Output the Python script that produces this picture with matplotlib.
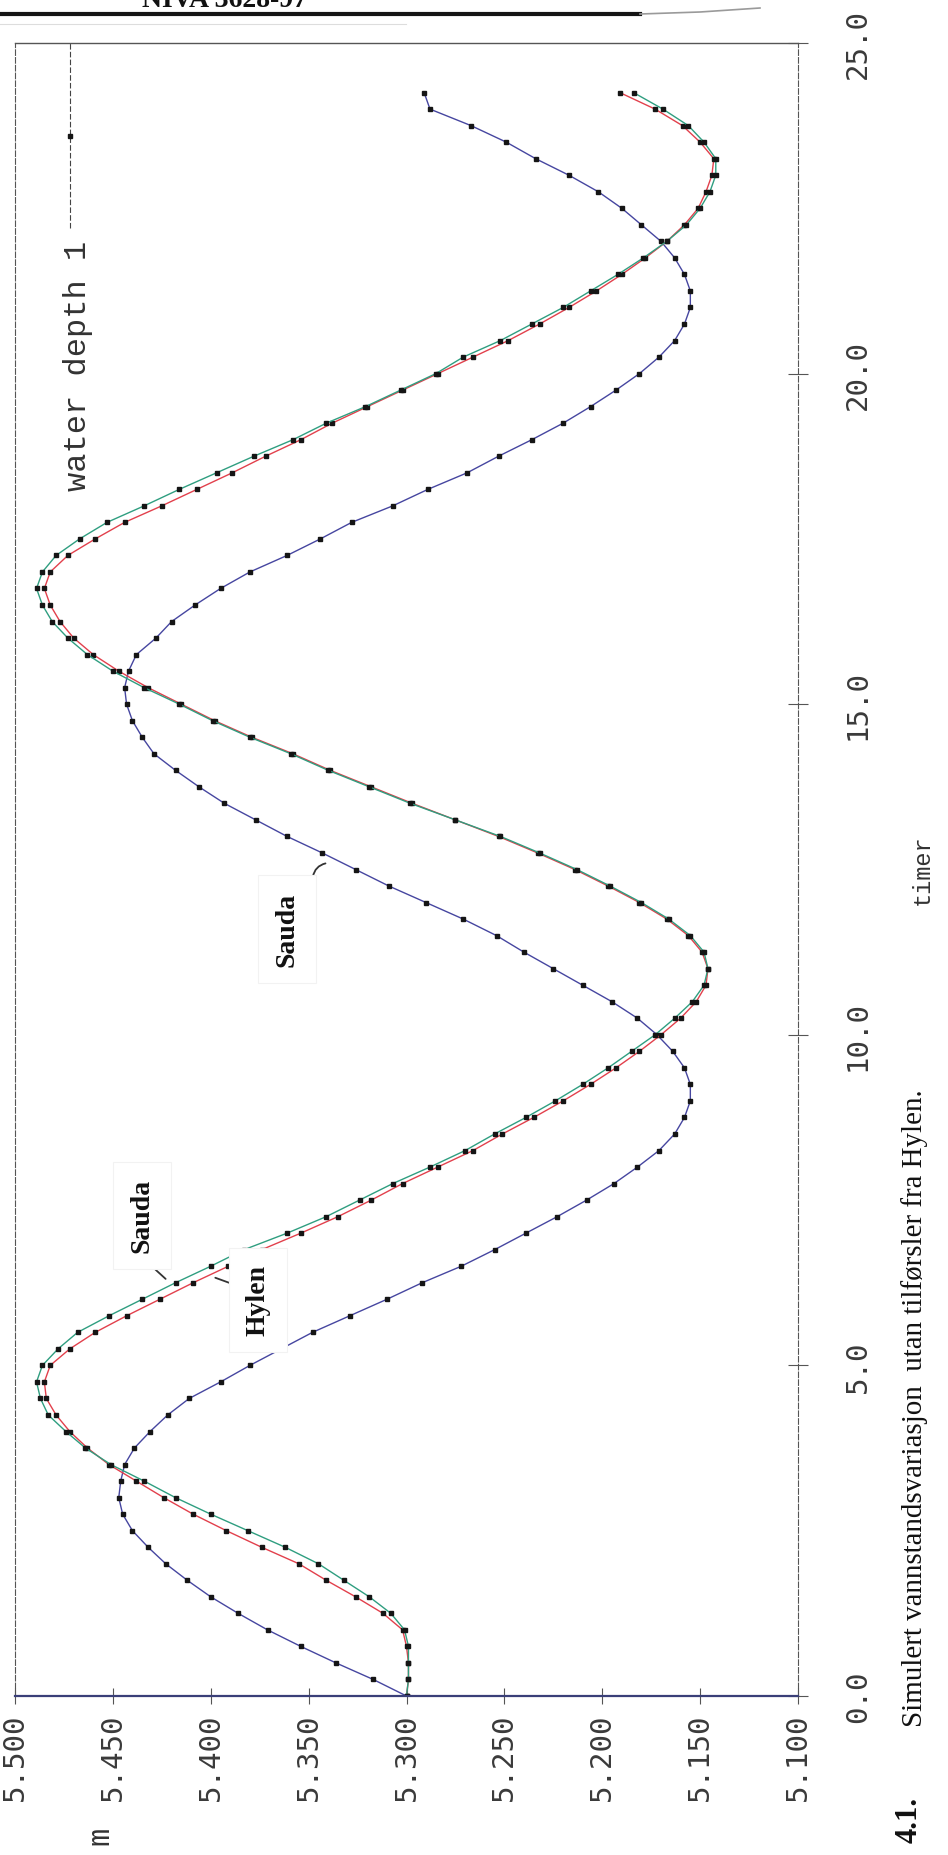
import matplotlib.pyplot as plt
from matplotlib.lines import Line2D

plt.rcParams['font.family'] = 'DejaVu Sans Mono'

# tid i timer, ett punkt per kvarter
timer = [0.0, 0.25, 0.5, 0.75, 1.0, 1.25, 1.5, 1.75, 2.0, 2.25, 2.5, 2.75,
         3.0, 3.25, 3.5, 3.75, 4.0, 4.25, 4.5, 4.75, 5.0, 5.25, 5.5, 5.75,
         6.0, 6.25, 6.5, 6.75, 7.0, 7.25, 7.5, 7.75, 8.0, 8.25, 8.5, 8.75,
         9.0, 9.25, 9.5, 9.75, 10.0, 10.25, 10.5, 10.75, 11.0, 11.25, 11.5, 11.75,
         12.0, 12.25, 12.5, 12.75, 13.0, 13.25, 13.5, 13.75, 14.0, 14.25, 14.5, 14.75,
         15.0, 15.25, 15.5, 15.75, 16.0, 16.25, 16.5, 16.75, 17.0, 17.25, 17.5, 17.75,
         18.0, 18.25, 18.5, 18.75, 19.0, 19.25, 19.5, 19.75, 20.0, 20.25, 20.5, 20.75,
         21.0, 21.25, 21.5, 21.75, 22.0, 22.25, 22.5, 22.75, 23.0, 23.25, 23.5, 23.75,
         24.0, 24.25]

# vannstand (m), blå kurve (Sauda)
sauda_a = [5.300, 5.317, 5.336, 5.354, 5.371, 5.386, 5.400, 5.412, 5.423, 5.432, 5.440, 5.445,
           5.447, 5.446, 5.444, 5.439, 5.431, 5.422, 5.411, 5.395, 5.380, 5.364, 5.348, 5.329,
           5.310, 5.292, 5.272, 5.255, 5.239, 5.223, 5.208, 5.194, 5.182, 5.171, 5.163, 5.158,
           5.155, 5.155, 5.158, 5.164, 5.172, 5.182, 5.195, 5.210, 5.225, 5.240, 5.254, 5.271,
           5.290, 5.309, 5.326, 5.343, 5.361, 5.377, 5.393, 5.406, 5.418, 5.429, 5.435, 5.440,
           5.443, 5.444, 5.442, 5.438, 5.428, 5.420, 5.408, 5.395, 5.380, 5.361, 5.344, 5.328,
           5.307, 5.289, 5.269, 5.253, 5.236, 5.220, 5.206, 5.193, 5.181, 5.171, 5.163, 5.158,
           5.155, 5.155, 5.158, 5.163, 5.170, 5.180, 5.190, 5.202, 5.217, 5.234, 5.249, 5.267,
           5.288, 5.291]

# grønn kurve (Sauda)
sauda_b = [5.300, 5.299, 5.299, 5.299, 5.301, 5.308, 5.319, 5.332, 5.345, 5.362, 5.381, 5.400,
           5.418, 5.434, 5.451, 5.464, 5.474, 5.483, 5.487, 5.489, 5.486, 5.478, 5.468, 5.452,
           5.435, 5.418, 5.400, 5.383, 5.361, 5.341, 5.324, 5.307, 5.288, 5.270, 5.255, 5.239,
           5.224, 5.210, 5.197, 5.185, 5.173, 5.163, 5.154, 5.148, 5.146, 5.148, 5.155, 5.166,
           5.180, 5.196, 5.213, 5.232, 5.252, 5.275, 5.298, 5.319, 5.340, 5.359, 5.380, 5.399,
           5.416, 5.434, 5.450, 5.463, 5.473, 5.481, 5.486, 5.489, 5.486, 5.479, 5.467, 5.453,
           5.434, 5.416, 5.397, 5.378, 5.358, 5.341, 5.321, 5.303, 5.285, 5.271, 5.252, 5.236,
           5.220, 5.206, 5.192, 5.179, 5.167, 5.157, 5.150, 5.145, 5.142, 5.142, 5.148, 5.156,
           5.169, 5.184]

# rød kurve (Hylen)
hylen = [5.300, 5.299, 5.299, 5.300, 5.302, 5.312, 5.326, 5.341, 5.355, 5.374, 5.392, 5.409,
         5.424, 5.438, 5.452, 5.463, 5.472, 5.479, 5.484, 5.485, 5.482, 5.472, 5.459, 5.443,
         5.426, 5.409, 5.391, 5.374, 5.354, 5.335, 5.318, 5.302, 5.284, 5.266, 5.251, 5.235,
         5.220, 5.206, 5.193, 5.181, 5.170, 5.160, 5.152, 5.147, 5.146, 5.149, 5.156, 5.167,
         5.181, 5.197, 5.214, 5.233, 5.253, 5.275, 5.297, 5.318, 5.339, 5.358, 5.379, 5.398,
         5.415, 5.432, 5.447, 5.460, 5.470, 5.477, 5.482, 5.485, 5.482, 5.473, 5.459, 5.444,
         5.425, 5.407, 5.389, 5.372, 5.354, 5.338, 5.320, 5.302, 5.284, 5.266, 5.248, 5.232,
         5.217, 5.203, 5.190, 5.178, 5.167, 5.158, 5.151, 5.147, 5.144, 5.143, 5.150, 5.159,
         5.173, 5.191]

niva_ticks = [5.5, 5.45, 5.4, 5.35, 5.3, 5.25, 5.2, 5.15, 5.1]
niva_labels = ['5.500', '5.450', '5.400', '5.350', '5.300', '5.250', '5.200', '5.150', '5.100']
tid_ticks = [0, 5, 10, 15, 20, 25]
tid_labels = ['0.0', '5.0', '10.0', '15.0', '20.0', '25.0']

W, H = 948, 1856
fig = plt.figure(figsize=(W / 100, H / 100), dpi=100)
ax = fig.add_axes([15 / W, 159 / H, 783 / W, 1653 / H])

mk = dict(marker='s', ms=2.6, mfc='#151515', mec='#151515')
ax.plot(sauda_a, timer, color='#4646a0', lw=1.0, **mk)
ax.plot(hylen, timer, color='#e2404c', lw=1.0, **mk)
ax.plot(sauda_b, timer, color='#2f9e80', lw=1.0, **mk)

ax.set_xlim(5.5, 5.1)
ax.set_ylim(0, 25)
ax.set_xticks(niva_ticks)
ax.set_xticklabels(niva_labels, rotation=90)
ax.yaxis.tick_right()
ax.set_yticks(tid_ticks)
ax.set_yticklabels(tid_labels, rotation=90, va='center')
ax.tick_params(axis='x', direction='inout', length=12, width=0.8, color='#555',
               pad=6, labelsize=21, labelcolor='#3a3a3a')
ax.tick_params(axis='y', direction='inout', length=14, width=0.8, color='#555',
               pad=26, labelsize=21, labelcolor='#3a3a3a')

for side in ['left', 'right']:
    ax.spines[side].set_linestyle((0, (5, 2)))
    ax.spines[side].set_color('#555')
    ax.spines[side].set_linewidth(0.8)
ax.spines['top'].set_color('#555')
ax.spines['top'].set_linewidth(1.0)
ax.spines['bottom'].set_color('#3a3f78')
ax.spines['bottom'].set_linewidth(1.6)

# legende
ax.text(5.468, 18.24, 'water depth 1', rotation=90, ha='center', va='bottom',
        family='Liberation Mono', fontsize=23, color='#333')
ax.plot([5.472, 5.472], [22.2, 25], color='#444', lw=0.8, ls=(0, (5, 2)), clip_on=False)
ax.plot([5.472], [23.6], ls='none', **mk)

# merkelapper
lab = dict(rotation=90, ha='center', va='center', family='Liberation Serif',
           fontweight='bold', fontsize=20, color='#111', zorder=5,
           bbox=dict(boxstyle='square,pad=0.6', fc='white', ec='#f2f2f2', lw=0.8))
ax.text(5.361, 11.6, 'Sauda', **lab)
ax.text(5.435, 7.27, 'Sauda', **lab)
ax.text(5.376, 5.99, 'Hylen', **lab)
arr = dict(arrowstyle='-', color='#333', lw=1.3)
ax.annotate('', xy=(5.340, 12.6), xytext=(5.348, 12.35),
            arrowprops=dict(arr, connectionstyle='arc3,rad=-0.4'))
ax.annotate('', xy=(5.422, 6.28), xytext=(5.432, 6.55), arrowprops=arr)
ax.annotate('', xy=(5.399, 6.34), xytext=(5.386, 6.2), arrowprops=arr)

# tekst utenfor aksene
fig.text(922 / W, 1 - 870 / H, 'timer', rotation=90, ha='center', va='center',
         family='Liberation Mono', fontsize=17, color='#333')
fig.text(100 / W, 1 - 1836 / H, 'm', rotation=90, ha='center', va='center',
         family='Liberation Mono', fontsize=22, color='#333')
cap = fig.text(915 / W, 1 - 1727 / H,
               'Simulert vannstandsvariasjon  utan tilførsler fra Hylen.',
               rotation=90, ha='center', va='bottom', family='Liberation Serif',
               fontsize=18, color='#111')
fig.canvas.draw()
cap.set_fontsize(18 * 639 / cap.get_window_extent().height)
fig.text(909 / W, 1 - 1820 / H, '4.1.', rotation=90, ha='center', va='center',
         family='Liberation Serif', fontweight='bold', fontsize=22, color='#111')
fig.text(224 / W, 1 - 7 / H, 'NIVA 3628-97', ha='center', va='baseline',
         family='Liberation Serif', fontweight='bold', fontsize=20, color='#111')

# toppstrek
fig.add_artist(Line2D([0, 640 / W], [1 - 15 / H, 1 - 15 / H], lw=3, color='#151515'))
fig.add_artist(Line2D([640 / W, 700 / W, 760 / W], [1 - 15 / H, 1 - 13 / H, 1 - 9 / H],
                      lw=1.2, color='#9a9a9a'))
fig.add_artist(Line2D([0, 406 / W], [1 - 25 / H, 1 - 25 / H], lw=0.8, color='#dddddd'))

fig.savefig('out.png', dpi=100)
